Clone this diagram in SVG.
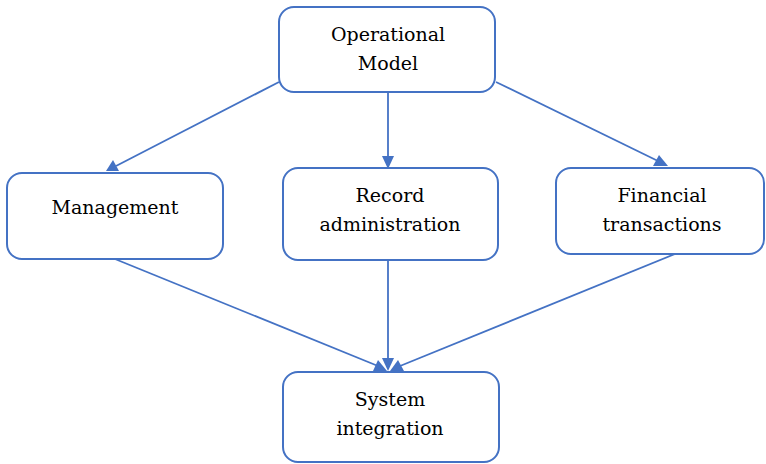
<svg xmlns="http://www.w3.org/2000/svg" width="766" height="464" viewBox="0 0 766 464">
<style>
.box{fill:#fff;stroke:#4472C4;stroke-width:2}
.t{font-family:"DejaVu Serif",serif;font-size:19px;fill:#000;text-anchor:middle}
.c{stroke:#4472C4;stroke-width:1.8;fill:none}
.ah{fill:#4472C4}
</style>
<rect width="766" height="464" fill="#fff"/>
<g id="connectors">
<line class="c" x1="279" y1="82" x2="116" y2="166"/>
<polygon class="ah" points="106,171 113,160 119,171"/>
<line class="c" x1="388" y1="92" x2="388" y2="158"/>
<polygon class="ah" points="388,169 382,156 394,156"/>
<line class="c" x1="496" y1="82" x2="658" y2="161"/>
<polygon class="ah" points="668,166 653,166 659,155"/>
<line class="c" x1="115" y1="259" x2="378" y2="366"/>
<polygon class="ah" points="387,371 373,371 378,360"/>
<line class="c" x1="388" y1="260" x2="388" y2="360"/>
<polygon class="ah" points="388,371 382,358 394,358"/>
<line class="c" x1="675" y1="254" x2="400" y2="366"/>
<polygon class="ah" points="390,371 398,360 404,371"/>
</g>
<g id="operational">
<rect class="box" x="279" y="7" width="216" height="85" rx="15"/>
<text class="t" x="388" y="41">Operational</text>
<text class="t" x="388" y="70">Model</text>
</g>
<g id="management">
<rect class="box" x="7" y="173" width="216" height="86" rx="15"/>
<text class="t" x="115" y="214">Management</text>
</g>
<g id="record">
<rect class="box" x="283" y="168" width="215" height="92" rx="15"/>
<text class="t" x="390" y="202">Record</text>
<text class="t" x="390" y="231">administration</text>
</g>
<g id="financial">
<rect class="box" x="556" y="168" width="208" height="86" rx="15"/>
<text class="t" x="662" y="202">Financial</text>
<text class="t" x="662" y="231">transactions</text>
</g>
<g id="system">
<rect class="box" x="283" y="372" width="216" height="90" rx="15"/>
<text class="t" x="390" y="406">System</text>
<text class="t" x="390" y="435">integration</text>
</g>
</svg>
